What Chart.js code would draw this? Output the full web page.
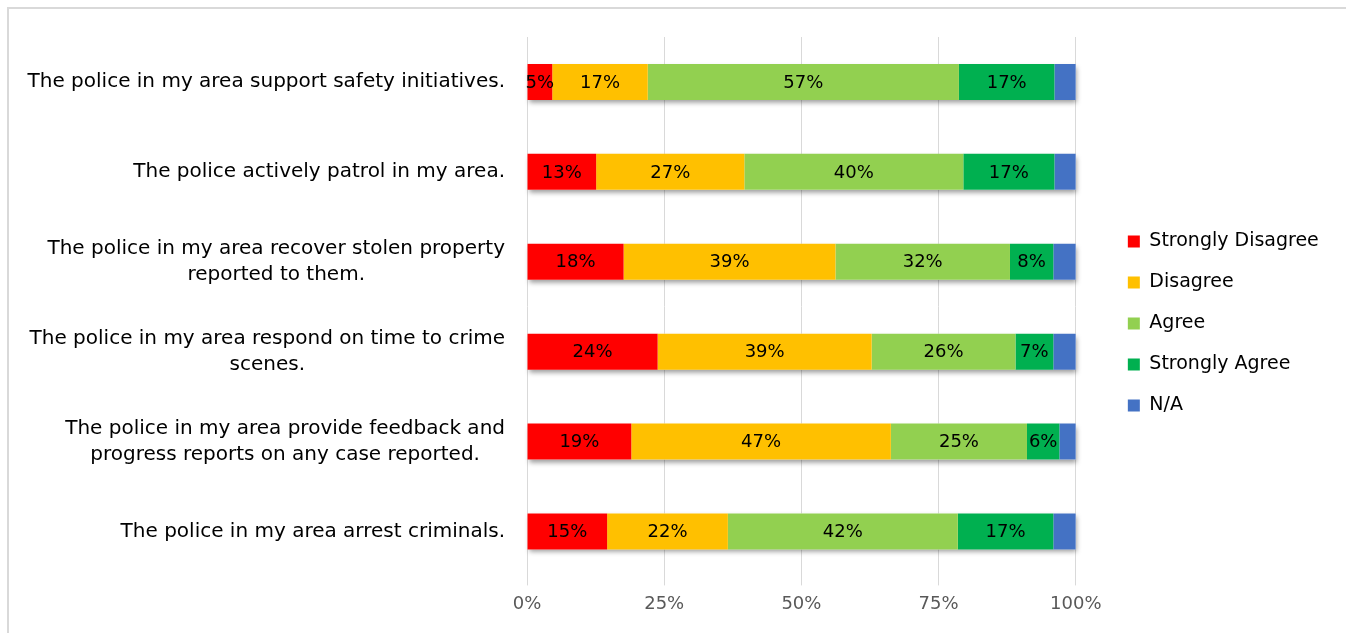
<!DOCTYPE html>
<html>
<head>
<meta charset="utf-8">
<title>Police perception survey</title>
<script src="https://cdn.jsdelivr.net/npm/chart.js@4.4.1/dist/chart.umd.min.js"></script>
<style>
  html, body { margin: 0; padding: 0; background: #fff; overflow: hidden; }
  #frame { position: absolute; left: 7px; top: 7px; width: 1400px; height: 700px; border: 2px solid #d9d9d9; }
  #surveyChart { position: absolute; left: 0; top: 0; }
</style>
</head>
<body>
<div id="frame"></div>
<canvas id="surveyChart" width="1346" height="633"></canvas>
<script>
// ===== DADOS =====
const statements = [
    ['The police in my area support safety initiatives.'],
    ['The police actively patrol in my area.'],
    ['The police in my area recover stolen property', 'reported to them.'],
    ['The police in my area respond on time to crime', 'scenes.'],
    ['The police in my area provide feedback and', 'progress reports on any case reported.'],
    ['The police in my area arrest criminals.']
];
const responseLabels = ['Strongly Disagree', 'Disagree', 'Agree', 'Strongly Agree', 'N/A'];
const stronglyDisagree = [4.6, 12.6, 17.6, 23.8, 19.0, 14.6];
const disagree         = [17.4, 27.0, 38.6, 39.0, 47.3, 22.0];
const agree            = [56.7, 39.9, 31.8, 26.2, 24.8, 41.9];
const stronglyAgree    = [17.4, 16.6, 7.9, 6.9, 5.9, 17.4];
const notApplicable    = [3.9, 3.9, 4.1, 4.1, 3.0, 4.1];
const axisTicks = [0, 25, 50, 75, 100];
const responseColors = ['#ff0000', '#ffc000', '#92d050', '#00b050', '#4472c4'];

const FONT = '"DejaVu Sans"';
Chart.defaults.font.family = FONT;

// ===== PLUGINS =====

// sombra por baixo de cada barra empilhada
const barShadow = {
    id: 'barShadow',
    beforeDatasetsDraw(chart) {
        const ctx = chart.ctx;
        const first = chart.getDatasetMeta(0);
        const last = chart.getDatasetMeta(chart.data.datasets.length - 1);
        ctx.save();
        ctx.shadowColor = 'rgba(0, 0, 0, 0.4)';
        ctx.shadowBlur = 5;
        ctx.shadowOffsetX = 1;
        ctx.shadowOffsetY = 3;
        ctx.fillStyle = '#fff';
        first.data.forEach((bar, i) => {
            const end = last.data[i];
            ctx.fillRect(bar.base, bar.y - bar.height / 2, end.x - bar.base, bar.height);
        });
        ctx.restore();
    }
};

// percentagens dentro dos segmentos (sem N/A)
const segmentLabels = {
    id: 'segmentLabels',
    afterDatasetsDraw(chart) {
        const ctx = chart.ctx;
        ctx.save();
        ctx.font = `18px ${FONT}`;
        ctx.fillStyle = '#000';
        ctx.textAlign = 'center';
        ctx.textBaseline = 'middle';
        chart.data.datasets.forEach((ds, di) => {
            if (ds.label === 'N/A') return;
            chart.getDatasetMeta(di).data.forEach((bar, i) => {
                ctx.fillText(Math.round(ds.data[i]) + '%', (bar.x + bar.base) / 2, bar.y + 1);
            });
        });
        ctx.restore();
    }
};

// rótulos das categorias: bloco alinhado à direita, linhas centradas
const statementLabels = {
    id: 'statementLabels',
    afterDraw(chart) {
        const ctx = chart.ctx;
        const yScale = chart.scales.y;
        const right = chart.chartArea.left - 22;
        const lineHeight = 26;
        ctx.save();
        ctx.font = `20px ${FONT}`;
        ctx.fillStyle = '#000';
        ctx.textAlign = 'center';
        ctx.textBaseline = 'middle';
        statements.forEach((lines, i) => {
            const cy = yScale.getPixelForValue(i);
            const width = Math.max(...lines.map(l => ctx.measureText(l).width));
            const cx = right - width / 2;
            const top = cy - (lines.length - 1) * lineHeight / 2;
            lines.forEach((line, li) => ctx.fillText(line, cx, top + li * lineHeight));
        });
        ctx.restore();
    }
};

// ===== GRÁFICO =====
const seriesValues = [stronglyDisagree, disagree, agree, stronglyAgree, notApplicable];

// eixo vazio usado só para reservar espaço
const spacer = (position, size) => ({
    type: 'linear',
    position: position,
    weight: 1,
    grid: { display: false },
    border: { display: false },
    ticks: { display: false },
    afterFit(scale) {
        if (scale.isHorizontal()) scale.height = size;
        else scale.width = size;
    }
});

new Chart(document.getElementById('surveyChart'), {
    type: 'bar',
    data: {
        labels: statements,
        datasets: responseLabels.map((label, i) => ({
            label: label,
            data: seriesValues[i],
            backgroundColor: responseColors[i],
            borderWidth: 0,
            barPercentage: 0.4,
            categoryPercentage: 1
        }))
    },
    options: {
        indexAxis: 'y',
        responsive: false,
        animation: false,
        layout: {
            padding: { left: 0, top: 23, bottom: 9, right: 19 }
        },
        scales: {
            x: {
                stacked: true,
                min: 0,
                max: 100,
                afterBuildTicks(scale) {
                    scale.ticks = axisTicks.map(v => ({ value: v }));
                },
                grid: { color: '#d9d9d9', lineWidth: 1, drawTicks: true, tickLength: 9 },
                border: { display: false },
                ticks: {
                    padding: 8,
                    color: '#595959',
                    font: { size: 18 },
                    callback: v => v + '%'
                }
            },
            // as frases são desenhadas pelo plugin; o eixo só reserva a largura
            y: {
                stacked: true,
                grid: { display: false },
                border: { display: false },
                ticks: { display: false },
                afterFit(scale) { scale.width = 527; }
            },
            topGap: spacer('top', 14),
            bottomGap: spacer('bottom', 1),
            rightGap: spacer('right', 30)
        },
        plugins: {
            legend: {
                position: 'right',
                labels: {
                    boxWidth: 12,
                    boxHeight: 12,
                    padding: 22,
                    color: '#000',
                    font: { size: 19 }
                }
            },
            tooltip: { enabled: false }
        }
    },
    plugins: [barShadow, segmentLabels, statementLabels]
});
</script>
</body>
</html>
